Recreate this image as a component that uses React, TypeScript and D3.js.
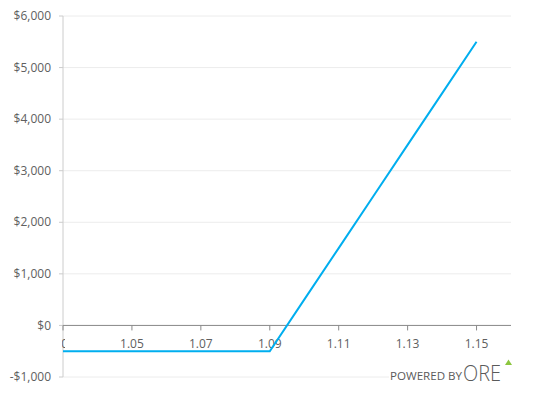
import React from "react";
import * as d3 from "d3";

const xValues = [1.03, 1.04, 1.05, 1.06, 1.07, 1.08, 1.09, 1.1, 1.11, 1.12, 1.13, 1.14, 1.15];
const yValues = [-500, -500, -500, -500, -500, -500, -500, 500, 1500, 2500, 3500, 4500, 5500];
const yTicks = [-1000, 0, 1000, 2000, 3000, 4000, 5000, 6000];
const xTicks = [1.03, 1.05, 1.07, 1.09, 1.11, 1.13, 1.15];

const W = 533;
const H = 409;
const left = 63;
const right = 511;
const top = 16;
const bottom = 377;
const FONT = "'Open Sans', 'DejaVu Sans', sans-serif";

export default function App() {
  const x = d3.scaleLinear().domain([1.03, 1.16]).range([left, right]);
  const y = d3.scaleLinear().domain([-1000, 6000]).range([bottom, top]);
  const line = d3
    .line<number>()
    .x((_, i) => x(xValues[i]))
    .y((d) => y(d));
  const fmt = (v: number) => (v < 0 ? "-$" : "$") + d3.format(",")(Math.abs(v));
  const y0 = y(0);

  return (
    <svg
      width={W}
      height={H}
      style={{ position: "absolute", left: 0, top: 0, background: "#fff" }}
      fontFamily={FONT}
    >
      <defs>
        <clipPath id="firstLabel">
          <rect x={left - 1} y={y0 + 8} width={3} height={20} />
        </clipPath>
      </defs>
      {yTicks.map((t) => (
        <g key={t}>
          <line x1={left} x2={right} y1={y(t)} y2={y(t)} stroke="#ececec" strokeWidth={1} />
          <line x1={left - 4} x2={left} y1={y(t)} y2={y(t)} stroke="#cccccc" strokeWidth={1} />
          <text
            x={left - 12}
            y={y(t)}
            dy="0.35em"
            textAnchor="end"
            fontSize={12}
            fill="#606060"
          >
            {fmt(t)}
          </text>
        </g>
      ))}
      <line x1={left} x2={left} y1={top} y2={bottom} stroke="#cccccc" strokeWidth={1} />
      <line x1={left} x2={right} y1={y0} y2={y0} stroke="#8a8a8a" strokeWidth={1} />
      {xTicks.map((t, i) => (
        <g key={t}>
          <line x1={x(t)} x2={x(t)} y1={y0} y2={y0 + 5} stroke="#8a8a8a" strokeWidth={1} />
          <text
            x={x(t)}
            y={y0 + 23}
            textAnchor="middle"
            fontSize={12}
            fill="#606060"
            clipPath={i === 0 ? "url(#firstLabel)" : undefined}
          >
            {t.toFixed(2)}
          </text>
        </g>
      ))}
      <path d={line(yValues) ?? ""} fill="none" stroke="#00aeef" strokeWidth={2} />
      <g>
        <rect x={389} y={358} width={124} height={26} fill="#fff" />
        <text
          x={390}
          y={380}
          fontSize={11}
          fill="#5a5a5a"
          textLength={72}
          lengthAdjust="spacingAndGlyphs"
        >
          POWERED BY
        </text>
        <text
          x={463}
          y={380.5}
          fontSize={22.5}
          fontWeight={300}
          fill="#5a5a5a"
          textLength={38}
          lengthAdjust="spacingAndGlyphs"
        >
          ORE
        </text>
        <path d="M505,365 L508.5,359.5 L512,365 Z" fill="#8cc63f" />
      </g>
    </svg>
  );
}
